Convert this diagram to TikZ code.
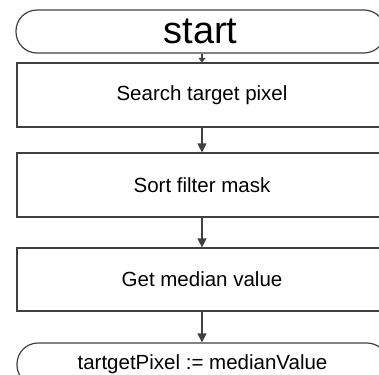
\documentclass[tikz,border=0pt]{standalone}
\usepackage{fontspec}
\setmainfont{Liberation Sans}
\usetikzlibrary{arrows.meta}
\definecolor{linegray}{HTML}{404040}
\tikzset{
  stepbox/.style={draw=linegray, line width=1.2pt, rectangle, minimum width=370pt, inner sep=0pt,
    font=\fontsize{20.5}{24}\selectfont},
  termbox/.style={draw=linegray, line width=1.2pt, rectangle, rounded corners=21pt, minimum height=43pt, inner sep=0pt},
  flow/.style={draw=linegray, line width=1.2pt, -{Triangle[length=9pt,width=9pt]}},
  flowsmall/.style={draw=linegray, line width=1.2pt, -{Triangle[length=4.5pt,width=7pt]}}
}
\begin{document}
\begin{tikzpicture}[x=1pt,y=-1pt]
\useasboundingbox (0,0) rectangle (379,374);
\clip (0,0) rectangle (379,374);
\node[termbox, minimum width=369pt, font=\fontsize{38}{40}\selectfont] (start) at (200.5,31.5) {start};
\node[stepbox, minimum height=64pt] (search) at (202,95) {Search target pixel};
\node[stepbox, minimum height=64pt] (sort) at (202,185) {Sort filter mask};
\node[stepbox, minimum height=63pt] (median) at (202,279.5) {Get median value};
\node[termbox, minimum width=371pt, font=\fontsize{20.5}{24}\selectfont] (assign) at (202.5,364.5) {\raisebox{4pt}{tartgetPixel := medianValue}};
\draw[flowsmall] (start.south -| search.north) -- (search.north);
\draw[flow] (search) -- (sort);
\draw[flow] (sort) -- (median);
\draw[flow] (median.south) -- (median.south |- assign.north);
\end{tikzpicture}
\end{document}
